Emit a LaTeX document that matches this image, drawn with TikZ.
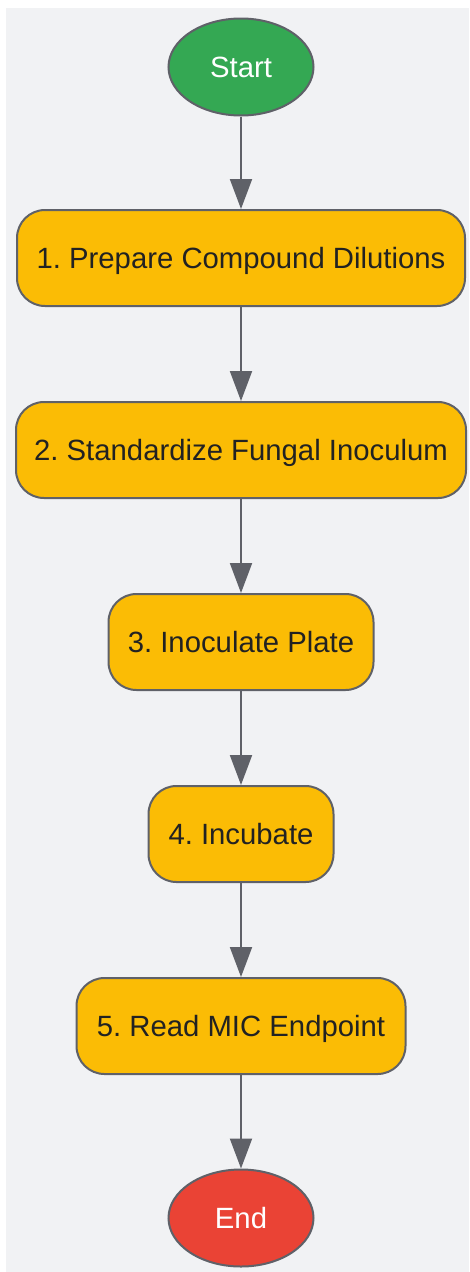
\documentclass[tikz,border=0pt]{standalone}
\usepackage{fontspec}
\setmainfont{Liberation Sans}
\usetikzlibrary{shapes.geometric,arrows.meta}
\definecolor{panelgray}{HTML}{F1F2F4}
\definecolor{edgegray}{HTML}{5F6168}
\definecolor{startgreen}{HTML}{34A853}
\definecolor{stepyellow}{HTML}{FBBC05}
\definecolor{endred}{HTML}{EA4335}
\definecolor{textdark}{HTML}{222222}
\frenchspacing

\begin{document}
\begin{tikzpicture}[x=1pt,y=-1pt,
		terminal/.style={draw=edgegray, ellipse, line width=2pt, minimum width=145pt, minimum height=97pt, inner sep=0pt, text height=21pt, text depth=0pt, text=white, font=\fontsize{29.3}{32}\selectfont},
		stepbox/.style={draw=edgegray, rounded corners=28pt, line width=2pt, fill=stepyellow, minimum height=96pt, inner sep=0pt, text height=21pt, text depth=0pt, text=textdark, font=\fontsize{29.3}{32}\selectfont},
		flow/.style={-{Triangle[length=30pt,width=22pt]}, line width=2pt, color=edgegray}]
		\useasboundingbox (0,0) rectangle (469,1272);
		\fill[panelgray] (6,8) rectangle (469,1272);

		\node[terminal, fill=startgreen] (start) at (241,67) {Start};

		\node[stepbox, minimum width=448pt] (prep) at (241,258) {1. Prepare Compound Dilutions};
		\node[stepbox, minimum width=450pt] (inoc) at (241,450) {2. Standardize Fungal Inoculum};
		\node[stepbox, minimum width=265pt] (plate) at (241,642) {3. Inoculate Plate};
		\node[stepbox, minimum width=185pt] (incub) at (241,834) {4. Incubate};
		\node[stepbox, minimum width=329pt] (read) at (241,1026) {5. Read MIC Endpoint};

		\node[terminal, fill=endred] (end) at (241,1218) {End};

		\draw[flow] (start) -- (prep);
		\draw[flow] (prep) -- (inoc);
		\draw[flow] (inoc) -- (plate);
		\draw[flow] (plate) -- (incub);
		\draw[flow] (incub) -- (read);
		\draw[flow] (read) -- (end);
	\end{tikzpicture}
\end{document}
